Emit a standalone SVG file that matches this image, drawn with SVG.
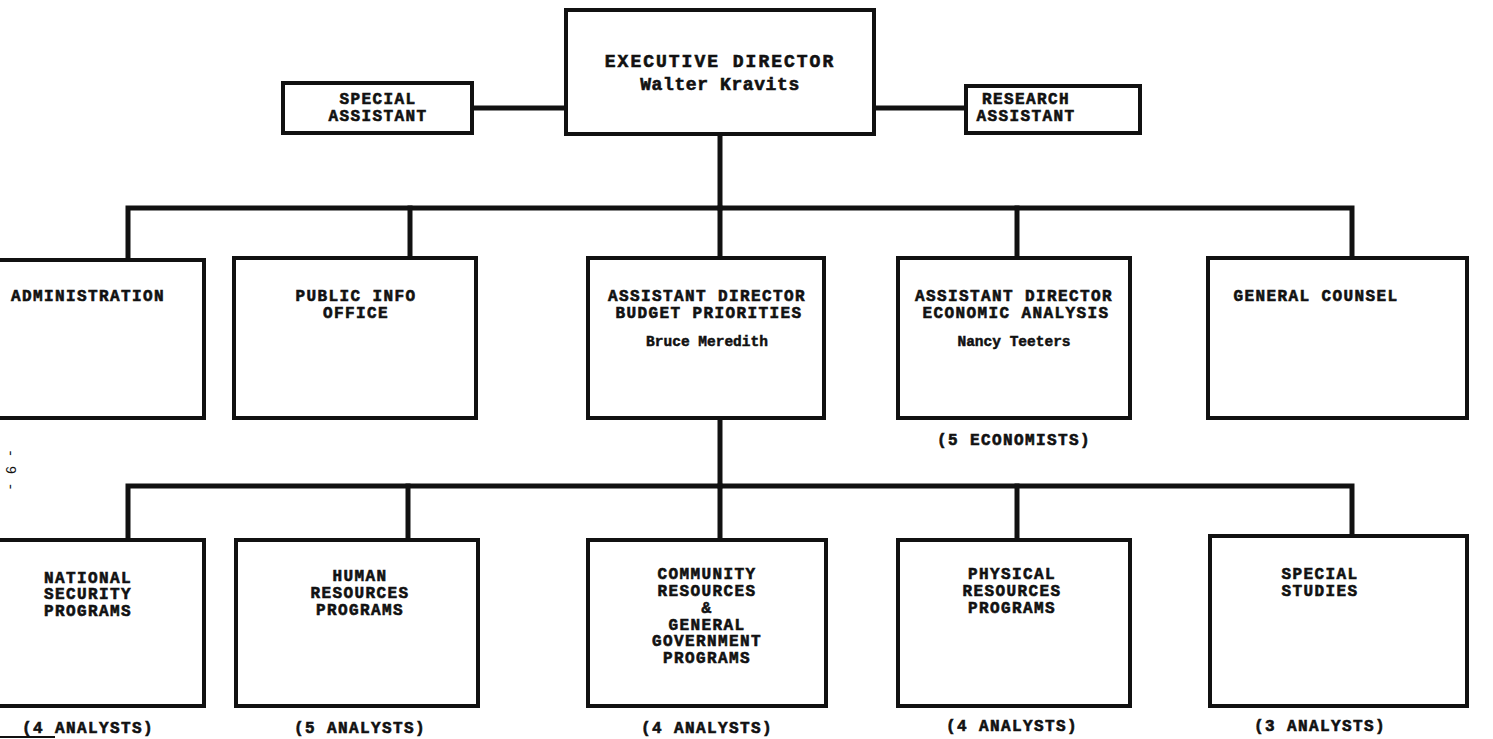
<svg xmlns="http://www.w3.org/2000/svg" width="1493" height="739" viewBox="0 0 1493 739">
<style>
.box{fill:#fff;stroke:#111;stroke-width:4}
.ln{stroke:#111;stroke-width:5;fill:none;stroke-linecap:square}
.t{font-family:"Liberation Mono",monospace;font-weight:bold;font-size:16px;letter-spacing:1.4px;fill:#111;stroke:#111;stroke-width:0.6;text-anchor:middle}
.n{font-family:"Liberation Mono",monospace;font-weight:bold;font-size:14.5px;fill:#111;stroke:#111;stroke-width:0.5;text-anchor:middle}
.big{font-size:18px;letter-spacing:2px}
</style>
<rect width="1493" height="739" fill="#fff"/>
<g id="connectors">
<line class="ln" x1="472" y1="108" x2="566" y2="108"/>
<line class="ln" x1="874" y1="108" x2="966" y2="108"/>
<line class="ln" x1="720" y1="134" x2="720" y2="208"/>
<polyline class="ln" points="128,260 128,208 1352,208 1352,258"/>
<line class="ln" x1="410" y1="208" x2="410" y2="258"/>
<line class="ln" x1="720" y1="208" x2="720" y2="258"/>
<line class="ln" x1="1017" y1="208" x2="1017" y2="258"/>
<line class="ln" x1="720" y1="418" x2="720" y2="486"/>
<polyline class="ln" points="128,540 128,486 1352,486 1352,536"/>
<line class="ln" x1="408" y1="486" x2="408" y2="540"/>
<line class="ln" x1="720" y1="486" x2="720" y2="540"/>
<line class="ln" x1="1017" y1="486" x2="1017" y2="538"/>
</g>
<g id="special-assistant"><rect class="box" x="283" y="83" width="189" height="50"/>
<text class="t" x="378" y="104">SPECIAL</text><text class="t" x="378" y="121">ASSISTANT</text></g>
<g id="executive-director"><rect class="box" x="566" y="10" width="308" height="124"/>
<text class="t big" x="720" y="67">EXECUTIVE DIRECTOR</text><text class="t big" x="720" y="90" style="letter-spacing:0.6px">Walter Kravits</text></g>
<g id="research-assistant"><rect class="box" x="966" y="86" width="174" height="47"/>
<text class="t" x="1026" y="104">RESEARCH</text><text class="t" x="1026" y="121">ASSISTANT</text></g>
<g id="administration"><rect class="box" x="-2" y="260" width="206" height="158"/>
<text class="t" x="88" y="301">ADMINISTRATION</text></g>
<g id="public-info"><rect class="box" x="234" y="258" width="242" height="160"/>
<text class="t" x="356" y="301">PUBLIC INFO</text><text class="t" x="356" y="318">OFFICE</text></g>
<g id="budget"><rect class="box" x="588" y="258" width="236" height="160"/>
<text class="t" x="707" y="301">ASSISTANT DIRECTOR</text><text class="t" x="709" y="318">BUDGET PRIORITIES</text><text class="n" x="707" y="346">Bruce Meredith</text></g>
<g id="economic"><rect class="box" x="898" y="258" width="232" height="160"/>
<text class="t" x="1014" y="301">ASSISTANT DIRECTOR</text><text class="t" x="1016" y="318">ECONOMIC ANALYSIS</text><text class="n" x="1014" y="346">Nancy Teeters</text>
<text class="t" x="1014" y="445">(5 ECONOMISTS)</text></g>
<g id="general-counsel"><rect class="box" x="1208" y="258" width="259" height="160"/>
<text class="t" x="1316" y="301">GENERAL COUNSEL</text></g>
<g id="national"><rect class="box" x="-2" y="540" width="206" height="166"/>
<text class="t" x="88" y="583">NATIONAL</text><text class="t" x="88" y="599">SECURITY</text><text class="t" x="88" y="616">PROGRAMS</text>
<text class="t" x="88" y="733">(4 ANALYSTS)</text></g>
<g id="human"><rect class="box" x="236" y="540" width="242" height="166"/>
<text class="t" x="360" y="581">HUMAN</text><text class="t" x="360" y="598">RESOURCES</text><text class="t" x="360" y="615">PROGRAMS</text>
<text class="t" x="360" y="733">(5 ANALYSTS)</text></g>
<g id="community"><rect class="box" x="588" y="540" width="238" height="166"/>
<text class="t" x="707" y="579">COMMUNITY</text><text class="t" x="707" y="596">RESOURCES</text><text class="t" x="707" y="613">&amp;</text><text class="t" x="707" y="630">GENERAL</text><text class="t" x="707" y="646">GOVERNMENT</text><text class="t" x="707" y="663">PROGRAMS</text>
<text class="t" x="707" y="733">(4 ANALYSTS)</text></g>
<g id="physical"><rect class="box" x="898" y="540" width="232" height="166"/>
<text class="t" x="1012" y="579">PHYSICAL</text><text class="t" x="1012" y="596">RESOURCES</text><text class="t" x="1012" y="613">PROGRAMS</text>
<text class="t" x="1012" y="731">(4 ANALYSTS)</text></g>
<g id="special-studies"><rect class="box" x="1210" y="536" width="257" height="170"/>
<text class="t" x="1320" y="579">SPECIAL</text><text class="t" x="1320" y="596">STUDIES</text>
<text class="t" x="1320" y="731">(3 ANALYSTS)</text></g>
<text x="6" y="470" transform="rotate(90 6 470)" font-family="Liberation Mono,monospace" font-size="14" fill="#111" text-anchor="middle">- 9 -</text>
<line x1="0" y1="737" x2="55" y2="737" stroke="#111" stroke-width="2"/>
</svg>
